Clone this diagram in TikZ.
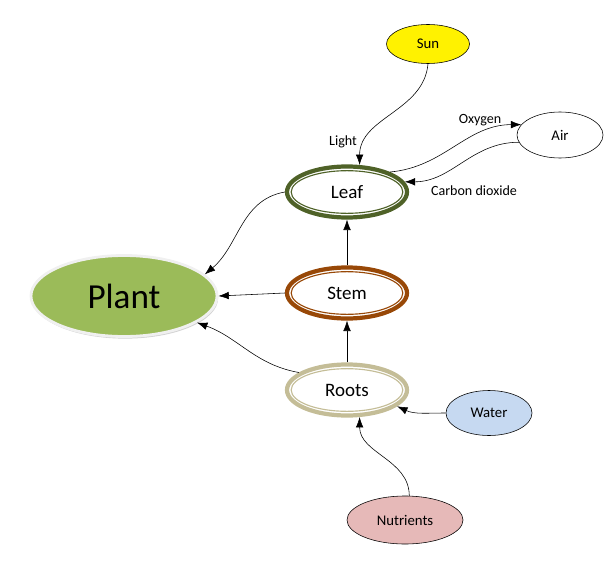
\documentclass[tikz,border=0pt]{standalone}
\usepackage{fontspec}
\setmainfont{Carlito}
\usepackage{xcolor}
\usetikzlibrary{shapes.geometric, arrows.meta, shadows}

\definecolor{leafgreen}{HTML}{4F6228}
\definecolor{stembrown}{HTML}{984807}
\definecolor{rootbeige}{HTML}{C4BD97}
\definecolor{plantgreen}{HTML}{9BBB59}
\definecolor{waterblue}{HTML}{C6D9F1}
\definecolor{nutrientpink}{HTML}{E6B9B8}

\tikzset{
  source/.style={ellipse, draw=black, thin, inner sep=0pt, font=\fontsize{10.5}{12}\selectfont},
  ring/.style={ellipse, draw=#1, line width=3pt, fill=white, minimum width=3cm, minimum height=1.275cm,
    inner sep=0pt, font=\fontsize{13.5}{16}\selectfont,
    path picture={\draw[#1, line width=0.8pt] (path picture bounding box.center) ellipse [x radius=1.395cm, y radius=0.533cm];}},
  flow/.style={-{Latex[length=2.6mm,width=1.9mm]}, thin},
  lbl/.style={font=\fontsize{10}{12}\selectfont}
}

\begin{document}
\begin{tikzpicture}[x=0.025cm, y=0.025cm]
  \useasboundingbox (0,0) rectangle (616,561);
  % outer sources
  \node[source, fill=yellow, minimum width=2.075cm, minimum height=0.975cm] (sun) at (428,517) {Sun};
  \node[source, fill=white, minimum width=2.15cm, minimum height=1.15cm] (air) at (560,426) {Air};
  \node[source, fill=waterblue, minimum width=2.15cm, minimum height=1.125cm] (water) at (489,148) {Water};
  \node[source, fill=nutrientpink, minimum width=2.9cm, minimum height=1.2cm] (nutrients) at (405,41) {Nutrients};
  % plant parts
  \node[ring=leafgreen] (leaf) at (347,369) {Leaf};
  \node[ring=stembrown] (stem) at (347,268) {Stem};
  \node[ring=rootbeige] (roots) at (347,171) {Roots};
  \node[ellipse, fill=plantgreen, draw=gray!12, line width=2pt, minimum width=4.65cm, minimum height=2.025cm,
        drop shadow={shadow xshift=0.8pt, shadow yshift=-1.5pt, opacity=0.35},
        font=\fontsize{25}{30}\selectfont] (plant) at (124,265) {Plant};
  % connectors
  \draw[flow] (sun.south) to[out=-95, in=90] (leaf.65);
  \draw[flow] (leaf.25) to[out=5, in=180] (air.165);
  \draw[flow] (air.190) to[out=180, in=0] (leaf.10);
  \draw[flow] (leaf.west) to[out=190, in=40] (plant.15);
  \draw[flow] (stem.west) -- (plant.east);
  \draw[flow] (roots.160) to[out=170, in=-20] (plant.-20);
  \draw[flow] (stem.north) -- (leaf.south);
  \draw[flow] (roots.north) -- (stem.south);
  \draw[flow] (water.west) to[out=180, in=-25] (roots.-18);
  \draw[flow] (nutrients.80) to[out=90, in=-90] (roots.-65);
  % labels
  \node[lbl] (lightlbl) at (343,419) {Light};
  \node[lbl] (oxygenlbl) at (480,441) {Oxygen};
  \node[lbl] (co2lbl) at (474,370) {Carbon dioxide};
\end{tikzpicture}
\end{document}
